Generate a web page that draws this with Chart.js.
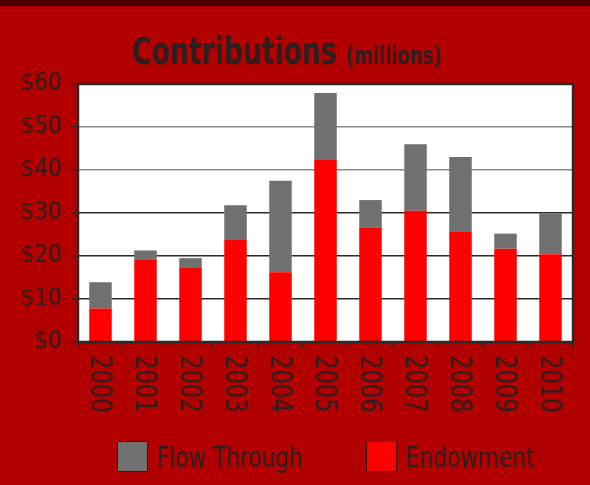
<!DOCTYPE html>
<html>
<head>
<meta charset="utf-8">
<script src="https://cdn.jsdelivr.net/npm/chart.js@4"></script>
<style>
  html, body { margin: 0; padding: 0; }
  body {
    width: 590px; height: 485px; overflow: hidden; position: relative;
    background: #b20000;
    font-family: 'Liberation Sans Narrow', 'DejaVu Sans Condensed', 'Liberation Sans', sans-serif;
    font-stretch: condensed;
    color: #2b1f1f;
  }
  #topbar { position: absolute; left: 0; top: 0; width: 590px; height: 6px; background: #4b0000; }
  #title {
    position: absolute; left: 0; top: 33px; width: 574px; text-align: center;
    font-size: 37px; line-height: 37px; font-weight: bold; white-space: nowrap;
    transform: scaleX(0.8); transform-origin: 287px 0;
  }
  #title small { font-size: 25px; font-weight: bold; }
  #wrap { position: absolute; left: 0; top: 0; width: 590px; height: 485px; }
  .item {
    position: absolute; top: 441px; height: 31px;
    display: flex; align-items: center; font-size: 29px; white-space: nowrap;
  }
  .box { width: 29px; height: 29px; border: 1px solid #3a1515; margin-right: 9px; flex: none; }
  .item span { display: inline-block; transform: scaleX(0.83); transform-origin: 0 50%; }
</style>
</head>
<body>
<div id="topbar"></div>
<div id="wrap"><canvas id="canvas" width="590" height="485"></canvas></div>
<div id="title">Contributions <small>(millions)</small></div>
<div id="legend"></div>
<script>
const years = ['2000','2001','2002','2003','2004','2005','2006','2007','2008','2009','2010']
// endowment = red part, flow through = grey part stacked on top
const endowment = [7.8, 19.1, 17.4, 23.9, 16.2, 42.5, 26.6, 30.5, 25.6, 21.7, 20.4]
const flowThrough = [6.1, 2.2, 2.1, 7.9, 21.3, 15.4, 6.4, 15.5, 17.4, 3.5, 9.5]
const yTicks = [0, 10, 20, 30, 40, 50, 60]

const ink = '#2b1f1f'
const font = "'Liberation Sans Narrow', 'DejaVu Sans Condensed', 'Liberation Sans', sans-serif"

const ctx = document.getElementById('canvas')

// white plot area, frame, and year labels rotated to read top to bottom
const framePlugin = {
  id: 'frame',
  beforeDraw(chart) {
    const a = chart.chartArea
    chart.ctx.save()
    chart.ctx.fillStyle = '#ffffff'
    chart.ctx.fillRect(a.left, a.top, a.right - a.left, a.bottom - a.top)
    chart.ctx.restore()
  },
  afterDraw(chart) {
    const c = chart.ctx
    const a = chart.chartArea
    c.save()
    c.strokeStyle = '#2a2a2a'
    c.lineWidth = 2.5
    c.strokeRect(a.left, a.top, a.right - a.left, a.bottom - a.top)
    const xs = chart.scales.x
    c.fillStyle = ink
    c.font = '30px ' + font
    c.textAlign = 'left'
    c.textBaseline = 'middle'
    for (let i = 0; i < years.length; i++) {
      c.save()
      c.translate(xs.getPixelForTick(i) - 2, a.bottom + 13)
      c.rotate(Math.PI / 2)
      c.scale(0.84, 1)
      c.fillText(years[i], 0, 0)
      c.restore()
    }
    c.restore()
  }
}

const chart = new Chart(ctx, {
  type: 'bar',
  data: {
    labels: years,
    datasets: [
      {
        label: 'Endowment',
        data: endowment,
        backgroundColor: '#ff0000',
        borderWidth: 0
      },
      {
        label: 'Flow Through',
        data: flowThrough,
        backgroundColor: '#707070',
        borderWidth: 0
      }
    ]
  },
  options: {
    responsive: false,
    animation: false,
    layout: { padding: { left: 0, right: 17, top: 84, bottom: 0 } },
    datasets: { bar: { barPercentage: 0.5, categoryPercentage: 1.0 } },
    plugins: {
      legend: { display: false },
      title: { display: false },
      tooltip: { enabled: false }
    },
    scales: {
      x: {
        stacked: true,
        afterFit(scale) { scale.height = 143 },
        grid: { drawOnChartArea: false, drawTicks: true, tickLength: 5, tickColor: '#2a2a2a', lineWidth: 1.5 },
        border: { display: false },
        ticks: { display: false }
      },
      y: {
        stacked: true,
        min: 0,
        max: 60,
        afterFit(scale) { scale.width = 78 },
        afterBuildTicks(scale) { scale.ticks = yTicks.map(v => ({ value: v })) },
        grid: {
          color: c => (c.tick && c.tick.value >= 40 ? '#8a8a8a' : '#2a2a2a'),
          tickColor: '#2a2a2a',
          lineWidth: 1.5,
          tickLength: 6
        },
        border: { display: false },
        ticks: {
          padding: 10,
          color: ink,
          font: { family: font, size: 24 },
          callback: v => '$' + v
        }
      }
    }
  },
  plugins: [framePlugin]
})

// legend in the reference lists grey first, then red
const legendX = [117, 366]
chart.data.datasets.slice().reverse().forEach((ds, i) => {
  const item = document.createElement('div')
  item.className = 'item'
  item.style.left = legendX[i] + 'px'
  const box = document.createElement('div')
  box.className = 'box'
  box.style.background = ds.backgroundColor
  const txt = document.createElement('span')
  txt.textContent = ds.label
  item.appendChild(box)
  item.appendChild(txt)
  document.getElementById('legend').appendChild(item)
})
</script>
</body>
</html>
